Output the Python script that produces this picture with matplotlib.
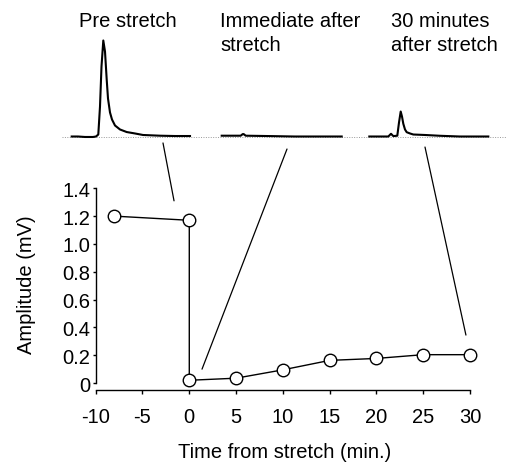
import matplotlib
matplotlib.use('Agg')
import matplotlib.pyplot as plt
from matplotlib.patches import ConnectionPatch

plt.rcParams['font.family'] = ['Liberation Sans', 'DejaVu Sans']

# ---- main series ----
time_min = [-8, 0, 0, 5, 10, 15, 20, 25, 30]
amplitude_mv = [1.20, 1.17, 0.02, 0.035, 0.095, 0.163, 0.177, 0.204, 0.204]

x_ticks = [-10, -5, 0, 5, 10, 15, 20, 25, 30]
x_tick_labels = ['-10', '-5', '0', '5', '10', '15', '20', '25', '30']
y_ticks = [0, 0.2, 0.4, 0.6, 0.8, 1.0, 1.2, 1.4]
y_tick_labels = ['0', '0.2', '0.4', '0.6', '0.8', '1.0', '1.2', '1.4']

x_label = 'Time from stretch (min.)'
y_label = 'Amplitude (mV)'

# ---- example traces (local time in ms, amplitude in mV) ----
trace_titles = ['Pre stretch', 'Immediate after\nstretch', '30 minutes\nafter stretch']

pre_t = [0, 0.63, 1.33, 2.13, 2.43, 2.66, 2.83, 2.98, 3.16, 3.33, 3.5, 3.63,
         3.83, 4.03, 4.33, 4.83, 5.5, 6.33, 7.13, 8.83, 10.33, 11.83]
pre_v = [0, 0, -0.006, -0.006, 0, 0.025, 0.376, 0.877, 1.203, 1.065, 0.714, 0.476,
         0.301, 0.213, 0.138, 0.088, 0.056, 0.038, 0.019, 0.010, 0.006, 0.006]

imm_t = [0, 1.9, 2.1, 2.2, 2.4, 5.0, 7.3, 12.0]
imm_v = [0.01, 0.01, 0.03, 0.03, 0.01, 0.005, 0.0, 0.0]

post_t = [0, 1.9, 2.17, 2.4, 2.8, 2.97, 3.14, 3.27, 3.4, 3.57, 3.74, 4.07,
          4.4, 5.57, 7.07, 9.07, 11.9]
post_v = [0, 0, 0.034, 0.005, 0.01, 0.175, 0.313, 0.25, 0.16, 0.088, 0.054, 0.038,
          0.025, 0.019, 0.009, 0.0, 0.0]

traces_t = [pre_t, imm_t, post_t]
traces_v = [pre_v, imm_v, post_v]

# layout constants
trace_offsets = [0.97, 15.97, 30.73]
title_x = [0.1564, 0.434, 0.771]
title_top = 1 - 12.0 / 464

FS = 14.5
W, H = 507, 464
fig = plt.figure(figsize=(W / 100, H / 100), dpi=100)

# main axes
ax = fig.add_axes([95.7 / W, 0.1573, 383.7 / W, 0.4407])
ax.plot(time_min, amplitude_mv, color='black', lw=1.0, marker='o', ms=9.0,
        mfc='white', mec='black', mew=1.0, zorder=3, clip_on=False)
ax.set_xlim(-10, 31)
ax.set_ylim(-0.05, 1.42)
for s in ['top', 'right']:
    ax.spines[s].set_visible(False)
ax.spines['left'].set_bounds(0, 1.4)
ax.spines['bottom'].set_bounds(-10, 30)
for s in ['left', 'bottom']:
    ax.spines[s].set_linewidth(1.0)
ax.set_xticks(x_ticks)
ax.set_xticklabels(x_tick_labels)
ax.set_yticks(y_ticks)
ax.set_yticklabels(y_tick_labels)
ax.tick_params(axis='x', direction='out', length=3, width=1, pad=9.5, labelsize=FS)
ax.tick_params(axis='y', direction='out', length=2.2, width=1, pad=1.5, labelsize=FS)
ax.set_xlabel(x_label, fontsize=FS)
ax.set_ylabel(y_label, fontsize=FS)
ax.xaxis.set_label_coords(0.493, -0.255)
ax.yaxis.set_label_coords(-0.155, 0.518)

# trace axes
axt = fig.add_axes([62 / W, (H - 150) / H, 445 / W, 120 / H])
axt.set_xlim(0, 44.5)
axt.set_ylim(-0.1566, 1.347)
axt.axis('off')
axt.axhline(0, color='#999999', lw=0.7, ls=(0, (1, 1.5)), zorder=1)
for off, tt, vv in zip(trace_offsets, traces_t, traces_v):
    axt.plot([off + t for t in tt], vv, color='black', lw=1.5, zorder=2,
             solid_joinstyle='round')

for x, label in zip(title_x, trace_titles):
    fig.text(x, title_top, label, fontsize=FS, ha='left', va='top',
             linespacing=1.34)

# connectors from trace to time point
conn_trace_pts = [(10.1, -0.081), (22.5, -0.157), (36.3, -0.132)]
conn_main_pts = [(-1.63, 1.31), (1.36, 0.10), (29.56, 0.345)]
for a, b in zip(conn_trace_pts, conn_main_pts):
    cp = ConnectionPatch(xyA=a, coordsA=axt.transData, xyB=b, coordsB=ax.transData,
                         color='black', lw=0.9)
    fig.add_artist(cp)

fig.savefig('out.png', dpi=100)
